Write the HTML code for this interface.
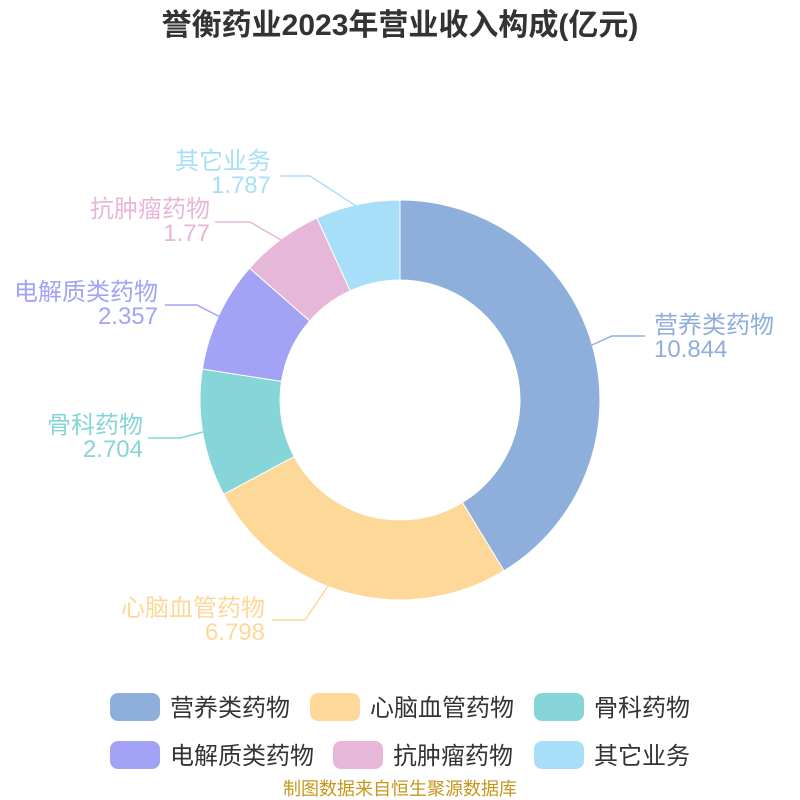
<!DOCTYPE html>
<html><head><meta charset="utf-8"><style>
html,body{margin:0;padding:0;background:#fff;}
svg{display:block;font-family:"Liberation Sans","Noto Sans CJK SC",sans-serif;}
</style></head><body>
<svg width="800" height="800" viewBox="0 0 800 800" xmlns="http://www.w3.org/2000/svg">
<rect width="800" height="800" fill="#fff"/>
<text x="400" y="35" text-anchor="middle" font-size="30" font-weight="bold" fill="#333">誉衡药业2023年营业收入构成(亿元)</text>
<g stroke="#fff" stroke-width="1">
<path d="M400,200 A200,200 0 0 1 504,570.8 L462.4,502.5 A120,120 0 0 0 400,280 Z" fill="#8eaedb"/>
<path d="M504,570.8 A200,200 0 0 1 223.7,494.3 L294.2,456.6 A120,120 0 0 0 462.4,502.5 Z" fill="#fed898"/>
<path d="M223.7,494.3 A200,200 0 0 1 202.4,369 L281.5,381.4 A120,120 0 0 0 294.2,456.6 Z" fill="#86d5d8"/>
<path d="M202.4,369 A200,200 0 0 1 249.6,268.2 L309.7,320.9 A120,120 0 0 0 281.5,381.4 Z" fill="#a2a3f5"/>
<path d="M249.6,268.2 A200,200 0 0 1 317,218 L350.2,290.8 A120,120 0 0 0 309.7,320.9 Z" fill="#e6b7d8"/>
<path d="M317,218 A200,200 0 0 1 400,200 L400,280 A120,120 0 0 0 350.2,290.8 Z" fill="#a8dff8"/>
</g>
<g fill="none" stroke-width="1.5">
<polyline points="592,345 612,336 645,336" stroke="#8eaedb"/>
<polyline points="330,583 305,620 272,620" stroke="#fed898"/>
<polyline points="203,432 180,438 148,438" stroke="#86d5d8"/>
<polyline points="220,317 197,305 165,305" stroke="#a2a3f5"/>
<polyline points="281,240 250,222 215,222" stroke="#e6b7d8"/>
<polyline points="356,206 310,176 280,176" stroke="#a8dff8"/>
</g>
<g font-size="24">
<text x="654" y="333" fill="#8eaedb">营养类药物</text>
<text x="654" y="357" fill="#8eaedb">10.844</text>
<text x="265" y="616" text-anchor="end" fill="#fed898">心脑血管药物</text>
<text x="265" y="640" text-anchor="end" fill="#fed898">6.798</text>
<text x="143" y="433" text-anchor="end" fill="#86d5d8">骨科药物</text>
<text x="143" y="457" text-anchor="end" fill="#86d5d8">2.704</text>
<text x="158" y="300" text-anchor="end" fill="#a2a3f5">电解质类药物</text>
<text x="158" y="324" text-anchor="end" fill="#a2a3f5">2.357</text>
<text x="210" y="217" text-anchor="end" fill="#e6b7d8">抗肿瘤药物</text>
<text x="210" y="241" text-anchor="end" fill="#e6b7d8">1.77</text>
<text x="271" y="169" text-anchor="end" fill="#a8dff8">其它业务</text>
<text x="271" y="193" text-anchor="end" fill="#a8dff8">1.787</text>
</g>
<g font-size="24" fill="#333">
<rect x="110" y="693" width="50" height="28" rx="8" fill="#8eaedb"/><text x="170" y="716">营养类药物</text>
<rect x="310" y="693" width="50" height="28" rx="8" fill="#fed898"/><text x="370" y="716">心脑血管药物</text>
<rect x="534" y="693" width="50" height="28" rx="8" fill="#86d5d8"/><text x="594" y="716">骨科药物</text>
<rect x="110" y="741" width="50" height="28" rx="8" fill="#a2a3f5"/><text x="170" y="764">电解质类药物</text>
<rect x="333" y="741" width="50" height="28" rx="8" fill="#e6b7d8"/><text x="393" y="764">抗肿瘤药物</text>
<rect x="534" y="741" width="50" height="28" rx="8" fill="#a8dff8"/><text x="594" y="764">其它业务</text>
</g>
<text x="400" y="795" text-anchor="middle" font-size="18" fill="#c8961e">制图数据来自恒生聚源数据库</text>
</svg>
</body></html>
